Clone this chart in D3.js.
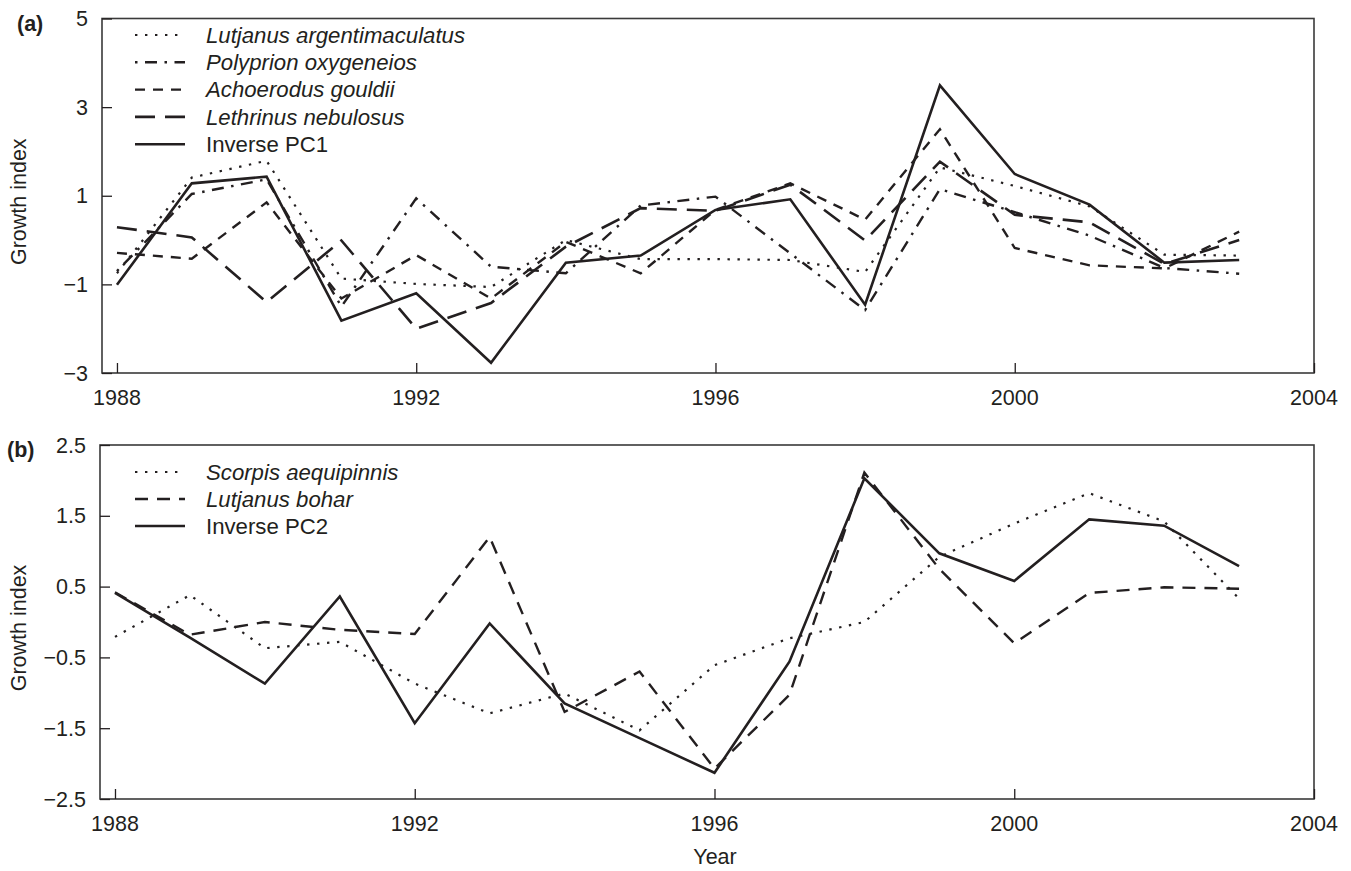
<!DOCTYPE html>
<html>
<head>
<meta charset="utf-8">
<script src="https://cdn.jsdelivr.net/npm/d3@7"></script>
<style>
  body { margin: 0; background: #fff; }
  svg { display: block; }
  text { font-family: "Liberation Sans", Arial, sans-serif; fill: #231f20; }
</style>
</head>
<body>
<svg width="1351" height="871"></svg>
<script>
// years on the x axis (both panels)
var years = d3.range(1988, 2004);
var xTicks = [1988, 1992, 1996, 2000, 2004];

// panel (a)
var yTicksA = [5, 3, 1, -1, -3];
var lutjanusArg = [-0.75, 1.41, 1.79, -0.87, -0.99, -1.06, 0.0, -0.43, -0.43, -0.45, -0.72, 1.64, 1.22, 0.76, -0.33, -0.35];
var polyprion   = [-0.7, 1.04, 1.37, -1.5, 0.94, -0.6, -0.75, 0.78, 0.98, -0.3, -1.58, 1.15, 0.63, 0.1, -0.63, -0.76];
var achoerodus  = [-0.29, -0.42, 0.85, -1.32, -0.34, -1.32, -0.04, -0.75, 0.68, 1.28, 0.46, 2.5, -0.18, -0.57, -0.64, 0.19];
var lethrinus   = [0.29, 0.06, -1.4, -0.01, -2.0, -1.42, -0.15, 0.72, 0.66, 1.25, -0.01, 1.77, 0.57, 0.4, -0.54, 0.0];
var invPC1      = [-1.01, 1.28, 1.43, -1.82, -1.2, -2.77, -0.51, -0.35, 0.68, 0.92, -1.46, 3.49, 1.49, 0.8, -0.51, -0.45];

// panel (b)
var yTicksB = [2.5, 1.5, 0.5, -0.5, -1.5, -2.5];
var scorpis     = [-0.21, 0.38, -0.37, -0.28, -0.87, -1.29, -1.01, -1.53, -0.61, -0.23, 0.0, 0.92, 1.39, 1.82, 1.42, 0.33];
var lutjanusBoh = [0.42, -0.18, 0.0, -0.11, -0.17, 1.2, -1.27, -0.7, -2.07, -1.03, 2.11, 0.75, -0.3, 0.41, 0.49, 0.47];
var invPC2      = [0.41, -0.22, -0.87, 0.36, -1.43, -0.02, -1.15, -1.64, -2.13, -0.56, 2.03, 0.97, 0.58, 1.45, 1.36, 0.79];

var ink = "#231f20";
var styles = {
  dotted:  { dash: "2.4,7.6", width: 2.2 },
  dashdot: { dash: "2.5,7.5,12,7.5", width: 2.4 },
  short:   { dash: "10,8", width: 2.4 },
  long:    { dash: "20,10", width: 2.6 },
  med:     { dash: "13,9", width: 2.4 },
  solid:   { dash: null, width: 2.6 }
};

var panels = [
  {
    label: "(a)", labelX: 17, left: 102, right: 1314, top: 18.5, bottom: 373,
    domain: [-3, 5], ticks: yTicksA, fmt: d3.format("d"),
    legendY: 35, legendStep: 27.3,
    series: [
      { name: "Lutjanus argentimaculatus", values: lutjanusArg, style: "dotted", italic: true },
      { name: "Polyprion oxygeneios", values: polyprion, style: "dashdot", italic: true },
      { name: "Achoerodus gouldii", values: achoerodus, style: "short", italic: true },
      { name: "Lethrinus nebulosus", values: lethrinus, style: "long", italic: true },
      { name: "Inverse PC1", values: invPC1, style: "solid", italic: false }
    ]
  },
  {
    label: "(b)", labelX: 7, left: 100, right: 1314, top: 445, bottom: 799,
    domain: [-2.5, 2.5], ticks: yTicksB, fmt: d3.format(".1f"),
    legendY: 472, legendStep: 27,
    series: [
      { name: "Scorpis aequipinnis", values: scorpis, style: "dotted", italic: true },
      { name: "Lutjanus bohar", values: lutjanusBoh, style: "med", italic: true },
      { name: "Inverse PC2", values: invPC2, style: "solid", italic: false }
    ]
  }
];

var svg = d3.select("svg");
var fontSize = 21.5;
var legendSize = 22.2;

panels.forEach(function(p) {
  var x = d3.scaleLinear().domain([1987.8, 2004]).range([p.left, p.right]);
  var y = d3.scaleLinear().domain(p.domain).range([p.bottom, p.top]);
  var g = svg.append("g");

  // frame
  g.append("rect")
    .attr("x", p.left).attr("y", p.top)
    .attr("width", p.right - p.left).attr("height", p.bottom - p.top)
    .attr("fill", "none").attr("stroke", "#3a3a3a").attr("stroke-width", 1.6);

  // inward ticks
  var xAxis = d3.axisTop(x).tickValues(xTicks).tickSize(10).tickFormat("");
  g.append("g").attr("transform", "translate(0," + p.bottom + ")").call(xAxis)
    .call(function(s) { s.select(".domain").remove(); s.selectAll("line").attr("stroke", ink).attr("stroke-width", 1.3); });
  var yAxis = d3.axisRight(y).tickValues(p.ticks).tickSize(10).tickFormat("");
  g.append("g").attr("transform", "translate(" + p.left + ",0)").call(yAxis)
    .call(function(s) { s.select(".domain").remove(); s.selectAll("line").attr("stroke", ink).attr("stroke-width", 1.3); });

  // tick labels
  g.selectAll("text.xl").data(xTicks).enter().append("text")
    .attr("x", function(d) { return x(d); })
    .attr("y", p.bottom + 32)
    .attr("text-anchor", "middle")
    .style("font-size", fontSize + "px")
    .text(function(d) { return d; });
  g.selectAll("text.yl").data(p.ticks).enter().append("text")
    .attr("x", p.left - 14)
    .attr("y", function(d) { return y(d); })
    .attr("dy", "0.35em")
    .attr("text-anchor", "end")
    .style("font-size", fontSize + "px")
    .text(function(d) { return p.fmt(d).replace("-", "\u2212"); });

  // panel label
  g.append("text")
    .attr("x", p.labelX).attr("y", p.top + 12)
    .style("font-size", fontSize + "px").style("font-weight", "bold")
    .text(p.label);

  // y title
  var cy = (p.top + p.bottom) / 2 + 6;
  g.append("text")
    .attr("transform", "translate(26," + cy + ") rotate(-90)")
    .attr("text-anchor", "middle")
    .style("font-size", fontSize + "px")
    .text("Growth index");

  // series
  var line = d3.line()
    .x(function(d, i) { return x(years[i]); })
    .y(function(d) { return y(d); });

  p.series.forEach(function(s, k) {
    var st = styles[s.style];
    g.append("path")
      .datum(s.values)
      .attr("d", line)
      .attr("fill", "none")
      .attr("stroke", ink)
      .attr("stroke-width", st.width)
      .attr("stroke-linejoin", "miter")
      .attr("stroke-dasharray", st.dash);

    var ly = p.legendY + k * p.legendStep;
    g.append("line")
      .attr("x1", 135).attr("x2", 185).attr("y1", ly).attr("y2", ly)
      .attr("stroke", ink).attr("stroke-width", st.width)
      .attr("stroke-dasharray", st.dash);
    g.append("text")
      .attr("x", 206).attr("y", ly).attr("dy", "0.35em")
      .style("font-size", legendSize + "px")
      .style("font-style", s.italic ? "italic" : "normal")
      .text(s.name);
  });
});

svg.append("text")
  .attr("x", 715).attr("y", 864)
  .attr("text-anchor", "middle")
  .style("font-size", fontSize + "px")
  .text("Year");
</script>
</body>
</html>
